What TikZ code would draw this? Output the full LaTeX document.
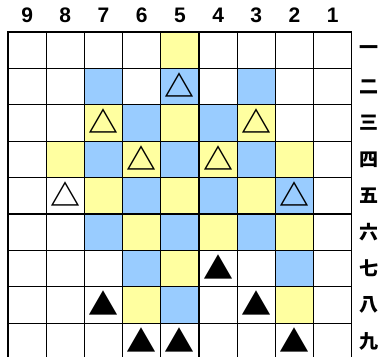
\documentclass[tikz,border=0pt]{standalone}
\usepackage{fontspec}
\setmainfont{Liberation Sans}
\newfontfamily\jpfont{Noto Sans CJK JP}
\usetikzlibrary{positioning}
\definecolor{sqyellow}{RGB}{255,255,160}
\definecolor{sqblue}{RGB}{153,204,255}

\begin{document}
\begin{tikzpicture}[
    x=1pt, y=-1pt,
    cell/.style={
        rectangle, draw=black, line width=1.3pt, fill=white,
        minimum width=38.2pt, minimum height=36.4pt, inner sep=0pt
    },
    piece/.style={font=\jpfont\bfseries\fontsize{30}{30}\selectfont, inner sep=0pt},
    filelabel/.style={font=\bfseries\fontsize{21}{21}\selectfont, inner sep=0pt},
    ranklabel/.style={font=\jpfont\bfseries\fontsize{19}{19}\selectfont, inner sep=0pt}
]
\clip (0,0) rectangle (390,356);
\fill[white] (0,0) rectangle (390,356);

% Board squares
\foreach \c in {1,...,9} {
    \foreach \r in {1,...,9} {
        \node[cell] (s\c\r) at ({8+(9.5-\c)*38.2},{32+(\r-0.5)*36.4}) {};
    }
}

% Coloured squares
\foreach \c/\r in {5/1, 7/3, 5/3, 3/3, 8/4, 6/4, 4/4, 2/4, 7/5, 5/5, 3/5,
                   6/6, 4/6, 2/6, 5/7, 6/8, 2/8}
    \node[cell, fill=sqyellow] at (s\c\r) {};
\foreach \c/\r in {7/2, 5/2, 3/2, 6/3, 4/3, 7/4, 5/4, 3/4, 6/5, 4/5, 2/5,
                   7/6, 5/6, 3/6, 6/7, 2/7, 5/8}
    \node[cell, fill=sqblue] at (s\c\r) {};

% File numbers
\foreach \c in {1,...,9}
    \node[filelabel] (f\c) at ({8+(9.5-\c)*38.2},15) {\c};

% Rank numbers
\foreach \r/\k in {1/一, 2/二, 3/三, 4/四, 5/五, 6/六, 7/七, 8/八, 9/九}
    \node[ranklabel, right=7pt of s1\r] (r\r) {\k};

% Gote pieces
\foreach \c/\r in {5/2, 7/3, 3/3, 6/4, 4/4, 8/5, 2/5}
    \node[piece, yshift=1.5pt] (w\c\r) at (s\c\r) {△};

% Sente pieces
\foreach \c/\r in {4/7, 7/8, 3/8, 6/9, 5/9, 2/9}
    \node[piece, yshift=1.5pt] (b\c\r) at (s\c\r) {▲};

\end{tikzpicture}
\end{document}
